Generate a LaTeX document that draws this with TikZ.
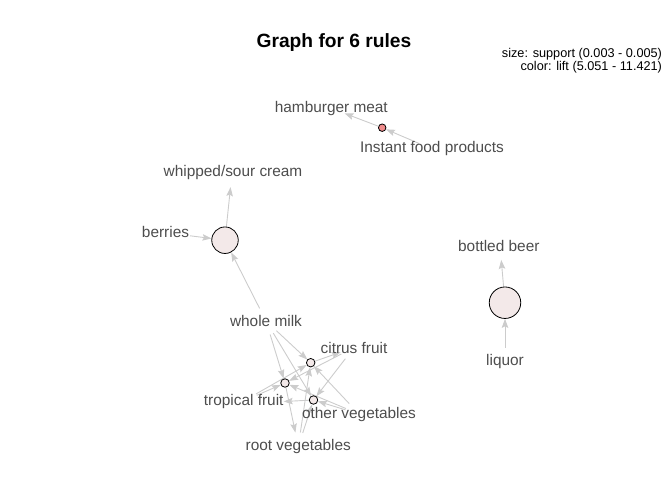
\documentclass[tikz,border=0pt]{standalone}
\usepackage{fontspec}
\setmainfont{Liberation Sans}
\usetikzlibrary{arrows.meta,backgrounds}
\definecolor{edgegray}{RGB}{204,204,204}
\definecolor{labelgray}{RGB}{77,77,77}
\definecolor{lowlift}{RGB}{243,233,233}
\definecolor{highlift}{RGB}{240,140,140}
\begin{document}
\begin{tikzpicture}[x=1pt,y=-1pt,
  lbl/.style={text=labelgray,font=\fontsize{15.4}{18}\selectfont,inner sep=0pt},
  item/.style={circle,minimum size=28pt,inner sep=0pt,draw=none},
  rulenode/.style={circle,draw=black,line width=0.8pt,inner sep=0pt,fill=lowlift},
  edge/.style={draw=edgegray,line width=0.9pt,-{Stealth[length=9pt,width=6.5pt,inset=1.5pt,fill=edgegray]}}
]
\useasboundingbox (0,0) rectangle (672,480);

% title and legend
\node[font=\bfseries\fontsize{19.2}{22}\selectfont,anchor=base] (title) at (334,47) {Graph for 6 rules};
\node[font=\fontsize{12.7}{15}\selectfont,anchor=base east] (leg1) at (665.5,57.5) {size: support (0.003 - 0.005)};
\node[font=\fontsize{12.7}{15}\selectfont,anchor=base east] (leg2) at (665.5,70.5) {color: lift (5.051 - 11.421)};

% item labels
\node[lbl] (l-ham) at (331.3,108.3) {hamburger meat};
\node[lbl] (l-inst) at (432,149) {Instant food products};
\node[lbl] (l-whip) at (233,172.5) {whipped/sour cream};
\node[lbl] (l-berries) at (165.5,231.7) {berries};
\node[lbl] (l-beer) at (498.8,245.8) {bottled beer};
\node[lbl] (l-liq) at (505,361.7) {liquor};
\node[lbl] (l-milk) at (266,321) {whole milk};
\node[lbl] (l-cit) at (354,347.5) {citrus fruit};
\node[lbl] (l-trop) at (243.7,401.5) {tropical fruit};
\node[lbl] (l-oth) at (359,414.5) {other vegetables};
\node[lbl] (l-root) at (298.3,446.5) {root vegetables};

% invisible item vertices
\node[item] (i-ham) at (331.3,108.3) {};
\node[item] (i-inst) at (432,149) {};
\node[item] (i-whip) at (232,173) {};
\node[item] (i-berries) at (176,234) {};
\node[item] (i-beer) at (500,245.8) {};
\node[item] (i-liq) at (505,361.7) {};
\node[item] (i-milk) at (266,321) {};
\node[item] (i-cit) at (354,347.5) {};
\node[item] (i-trop) at (243.7,401) {};
\node[item] (i-oth) at (359,414) {};
\node[item] (i-root) at (298.3,446.5) {};

% rule vertices
\node[rulenode,fill=highlift,minimum size=7.5pt] (r1) at (382.2,127.7) {};
\node[rulenode,minimum size=26.5pt] (r2) at (225,240.2) {};
\node[rulenode,minimum size=31.5pt] (r3) at (505,302.7) {};
\node[rulenode,minimum size=8.5pt] (ra) at (310.7,362.7) {};
\node[rulenode,minimum size=8.5pt] (rb) at (285,383) {};
\node[rulenode,minimum size=8.5pt] (rc) at (313.5,400) {};

\begin{scope}[on background layer]
\draw[edge] (i-inst) -- (r1);
\draw[edge] (r1) -- (i-ham);
\draw[edge] (i-berries) -- (r2);
\draw[edge] (i-milk) -- (r2);
\draw[edge] (r2) -- (i-whip);
\draw[edge] (i-liq) -- (r3);
\draw[edge] (r3) -- (i-beer);
% rule A: {tropical, other veg, root veg, whole milk} => citrus
\draw[edge] (i-milk) -- (ra);
\draw[edge] (i-oth) -- (ra);
\draw[edge] (i-trop) -- (ra);
\draw[edge] (i-root) -- (ra);
\draw[edge] (ra) -- (i-cit);
% rule B: {citrus, tropical, other veg, whole milk} => root veg
\draw[edge] (i-milk) -- (rb);
\draw[edge] (i-oth) -- (rb);
\draw[edge] (i-trop) -- (rb);
\draw[edge] (i-cit) -- (rb);
\draw[edge] (rb) -- (i-root);
% rule C: {citrus, other veg, root veg, whole milk} => tropical
\draw[edge] (i-milk) -- (rc);
\draw[edge] (i-oth) -- (rc);
\draw[edge] (i-cit) -- (rc);
\draw[edge] (i-root) -- (rc);
\draw[edge] (rc) -- (l-trop.east);
\end{scope}
\end{tikzpicture}
\end{document}
